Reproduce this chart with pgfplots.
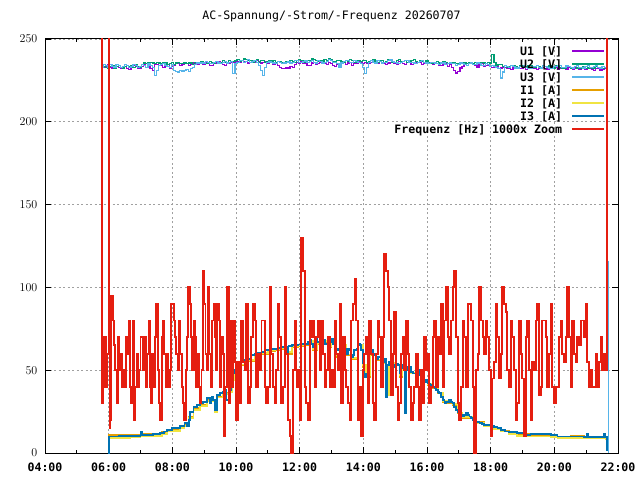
\documentclass[border=0pt]{standalone}
\usepackage{pgfplots}
\usepackage{pgfplotstable}
\pgfplotsset{compat=1.18}
\usepackage{fontspec}
\setmainfont{DejaVu Sans Mono}
\definecolor{cU1}{HTML}{9400D3}
\definecolor{cU2}{HTML}{009E73}
\definecolor{cU3}{HTML}{56B4E9}
\definecolor{cI1}{HTML}{E69F00}
\definecolor{cI2}{HTML}{F0E442}
\definecolor{cI3}{HTML}{0072B2}
\definecolor{cF}{HTML}{E51E10}
\definecolor{cgrid}{HTML}{A0A0A0}
\pgfplotstableread{
t U1 U2 U3
346 234 234.5 233
350 233 233.5 234.5
354 233.5 233 234
358 234.5 232.5 233
362 233 233.5 234.5
366 232.5 234 233.5
370 234 232.5 233
374 233.5 233.5 234.5
378 233 234 234
382 232 233 233
386 232.5 232.5 233.5
390 233.5 233.5 234.5
394 232 234 234
398 231.5 233.5 233
402 233 234 233.5
406 234 233 234.5
410 233.5 234.5 234
414 232.5 233.5 233
418 232 233 233.5
422 233.5 234.5 234.5
426 234.5 235.5 234
430 235 235 233
434 234 235.5 235
438 232 236 234
442 231 235.5 233
446 234.5 235 228
450 234.5 236 231
454 235 235.5 234
458 234 235 234.5
462 233 236 235
466 235 235.5 234
470 234.5 234.5 233.5
474 232 235 233
478 233.5 236 234.5
482 234 234.5 231
486 235 235.5 230.5
490 235 236 230
494 234 235 231
498 234.5 235 230.5
502 235.5 236 231
506 235 235 231.5
510 234 235.5 230.5
514 234.5 235.5 232
518 235.5 234.5 233
522 235 236 234.5
526 234.5 235.5 235.5
530 235 235.5 236
534 236 236.5 235
538 234.5 236 235.5
542 235.5 235 236.5
546 235.5 235 236
550 234 236.5 235
554 234 236 235
558 235 235.5 236
562 235.5 236.5 236.5
566 236.5 236 235.5
570 236 236 235
574 234.5 237 236
578 234 236 236.5
582 235.5 235.5 235.5
586 235 237 236
590 236 236.5 236.5
594 236 236.5 229
598 235 237 235
602 236.5 237.5 236
606 236 236.5 237
610 237 237 237
614 236.5 238 236
618 236.5 237.5 236.5
622 235.5 237 237.5
626 237 237 236
630 236.5 236 236.5
634 236 236.5 237
638 237 237.5 236
642 236.5 236 234
646 235.5 237 231
650 236 237 228
654 236.5 236 233
658 235 236.5 236
662 236 237 236.5
666 236 236.5 236
670 234.5 237 235.5
674 235.5 236 235
678 234 236.5 236.5
682 233 236.5 236
686 232 235.5 235
690 232 236 235.5
694 233 236.5 236
698 232.5 236 236.5
702 233.5 237 235.5
706 233 236.5 236
710 234.5 236 237
714 236 237 237
718 235.5 237.5 236
722 236.5 237 236
726 235 236 236.5
730 235.5 236.5 237
734 234 237 236
738 234 237 236.5
742 235.5 238 237
746 236 237.5 236
750 234.5 237 235.5
754 235 236.5 237
758 236 237 236.5
762 236 236 235.5
766 235 237.5 236
770 234.5 237 236.5
774 236 238 237.5
778 235 237.5 237
782 234 236.5 236
786 233.5 236.5 236
790 234.5 237 235
794 235 237 233
798 235.5 236.5 235.5
802 236 236 236.5
806 234.5 237 237
810 235.5 236.5 237
814 236 237.5 236
818 234 237 236
822 235 236 237
826 235.5 236 236.5
830 236.5 237 236
834 236 236.5 235
838 235 237 233
842 236 237 229
846 235.5 236 233
850 235 236.5 236
854 236 237 237
858 236.5 237.5 236
862 235 236.5 235.5
866 235.5 236 237
870 236.5 237 236.5
874 236 237 235.5
878 235 236 236
882 234.5 236.5 236
886 235.5 237.5 237
890 236 237 237.5
894 236.5 236 236.5
898 235 236 236
902 234.5 237 235.5
906 236.5 237.5 235
910 236 236.5 236
914 235 236.5 236.5
918 234.5 237 237
922 236 236 237
926 236.5 236.5 236
930 234.5 237 236
934 235 237.5 235.5
938 235.5 236.5 235
942 236 236 236
946 236 237 236.5
950 234.5 236.5 237
954 235 236 236
958 236 237 235.5
962 235.5 236 235
966 235 235 236
970 234.5 235.5 236
974 235.5 236 235.5
978 235 236.5 235
982 234 235.5 234.5
986 234 235.5 235.5
990 235 236.5 236
994 235 236 234.5
998 233.5 235 235
1002 234.5 235 235.5
1006 233 236 235
1010 231 235.5 235
1014 229.5 235 234
1018 230.5 235 234.5
1022 232.5 236 235.5
1026 233.5 236 235
1030 234.5 235.5 234.5
1034 234 235 234
1038 235 236 235
1042 235 235.5 235.5
1046 234.5 235 234.5
1050 234 236 234.5
1054 233 235.5 235.5
1058 234.5 235 235
1062 235 236 234
1066 233.5 235.5 234
1070 234 235 235
1074 234 236 234.5
1078 233.5 235.5 233.5
1082 233 240.5 234
1086 234 236 233.5
1090 233.5 234 233
1094 232 234.5 232
1098 232.5 234.5 226.5
1102 233 233.5 230
1106 233 234 234
1110 232.5 233 233.5
1114 232 233.5 233
1118 231.5 234 234
1122 232.5 234 233.5
1126 233 233.5 232.5
1130 233 233 232.5
1134 232 234 233.5
1138 232 234 233.5
1142 233 233 234
1146 231.5 233.5 233
1150 232.5 234 232.5
1154 233 234 232
1158 232 233 233.5
1162 232.5 233 233.5
1166 231.5 234 234
1170 232 233.5 233
1174 232.5 233 232.5
1178 233 234 234
1182 232 233.5 233.5
1186 231.5 233 233
1190 233 234 232.5
1194 232 233.5 232.5
1198 232.5 232.5 233.5
1202 233 234 233.5
1206 231.5 233.5 234
1210 232.5 233 234
1214 233 232.5 233
1218 232 232.5 233
1222 231.5 233.5 234
1226 233 233.5 233.5
1230 232 232.5 233
1234 231.5 233 232.5
1238 232.5 233.5 233.5
1242 232.5 232.5 234
1246 231.5 232 233
1250 232 233 233
1254 233 233.5 232.5
1258 231.5 232 233.5
1262 232 232.5 234
1266 232.5 233 233
1270 231.5 232 233
1274 231 232.5 233.5
1278 232 233.5 234
1282 232 233 233
1286 231 232 232.5
1290 231.5 232 233.5
1294 232.5 233 233
1298 232 232.5 233
}\volt
\begin{document}
\begin{tikzpicture}
\useasboundingbox (0,0) rectangle (640pt,480pt);
\begin{axis}[
  at={(45pt,27pt)}, anchor=south west,
  width=573pt, height=414pt, scale only axis,
  xmin=240, xmax=1320, ymin=0, ymax=250,
  xtick={240,360,...,1320},
  xticklabels={04:00,06:00,08:00,10:00,12:00,14:00,16:00,18:00,20:00,22:00},
  minor x tick num=1,
  ytick={0,50,...,250},
  tick align=inside,
  major tick length=6pt, minor tick length=3pt,
  grid=major,
  major grid style={cgrid, dash pattern=on 2pt off 2.5pt, line width=0.9pt},
  axis line style={line width=1pt, black},
  every tick/.style={black, line width=0.9pt},
  tick label style={font=\fontsize{11.6}{13}\selectfont\bfseries},
  xticklabel style={anchor=base, yshift=-18.7pt},
  yticklabel style={anchor=east, xshift=-4.1pt},
  title={AC-Spannung/-Strom/-Frequenz 20260707},
  title style={at={(0.5,1)}, anchor=base, yshift=13.3pt, font=\fontsize{11.6}{13}\selectfont},
  legend cell align=right,
  legend plot pos=right,
  legend image code/.code={\draw[#1] (0pt,0pt) -- (32pt,0pt);},
  legend style={at={(rel axis cs:0.9773,0.9855)}, anchor=north east, draw=none, fill=none,
    inner sep=0pt, outer sep=0pt, row sep=1pt, column sep=9pt,
    font=\fontsize{11.6}{13}\selectfont\bfseries,
    nodes={inner sep=0pt, text height=10pt, text depth=2pt}},
  every axis plot/.append style={const plot},
]
\addplot[cU1, line width=1.3pt] table[x=t, y=U1] {\volt};
\addlegendentry{U1 [V]}
\addplot[cU2, line width=1.3pt] table[x=t, y=U2] {\volt};
\addlegendentry{U2 [V]}
\addplot[cU3, line width=1.3pt] table[x=t, y=U3] {\volt};
\addlegendentry{U3 [V]}
\addplot[cI1, line width=1.8pt] coordinates {
(360,0) (360.5,11) (400,11) (420,11.5) (440,11.5) (460,12.5) (470,14) (480,14.5) (495,16) (503,17)
(512,22) (520,27) (532,29) (545,32) (560,25) (564,34) (576,36) (586,37) (592,44) (598,48)
(610,53) (623,55.5) (635,58.5) (648,60) (661,61.5) (673,62) (685,63) (697,60) (705,64) (717,64.5)
(729,65) (739,67) (745,62) (752,66) (764,67) (773,64) (780,68) (786,58) (797,65) (808,59)
(817,57) (830,65) (839,52) (845,46) (852,59) (864,56) (877,54) (883,36) (889,54) (902,53)
(908,46) (914,52) (921,51) (930,48) (942,49) (952,43) (961,41) (971,39) (980,36) (990,31)
(999,30) (1008,29) (1018,24) (1027,21) (1040,21) (1052,18.5) (1068,16.5) (1086,15) (1099,13.5) (1115,12)
(1130,11.5) (1155,11) (1193,10.5) (1206,9.8) (1231,10.5) (1256,10) (1290,10) (1297,9.5) (1299,5)};
\addlegendentry{I1 [A]}
\addplot[cI2, line width=1.8pt] coordinates {
(360,0) (360.5,9) (400,9.5) (420,10) (440,10.5) (460,11.5) (470,13) (480,13.5) (495,15) (503,16.5)
(512,21) (520,26) (532,28.5) (545,31.5) (560,25) (564,33.5) (576,35.5) (586,36.5) (592,44) (598,48)
(610,53.5) (623,56) (635,59) (648,60.5) (661,62) (673,62.5) (685,63.5) (697,61) (705,64.5) (717,65)
(729,65.5) (739,67.5) (745,63) (752,66.5) (764,67.5) (773,64.5) (780,68.5) (786,59) (797,65.5) (808,59.5)
(817,57.5) (830,65.5) (839,53) (845,47) (852,59.5) (864,56.5) (877,54.5) (883,35) (889,54.5) (902,53.5)
(908,47) (914,52.5) (921,51.5) (930,48.5) (942,49.5) (952,43.5) (961,41.5) (971,39.5) (980,36.5) (990,31.5)
(999,30.5) (1008,29.5) (1018,24.5) (1027,21.5) (1040,21.5) (1052,18) (1068,16) (1086,14.5) (1099,13) (1115,11.5)
(1130,10.5) (1155,10) (1193,9.5) (1206,9) (1231,9) (1256,8.8) (1290,8.8) (1297,8.5) (1299,4)};
\addlegendentry{I2 [A]}
\addplot[cI3, line width=1.8pt] coordinates {
(359.5,0) (360,10) (380,10.4) (400,10.2) (412,10.5) (420,12.5) (423,11) (444,11.5) (457,12) (465,13)
(470,14) (479,15) (488,15) (494,16.5) (503,18) (508,16) (511,20) (513,25) (520,28) (526,29)
(532,30) (538,31) (545,33) (551,30) (554,34) (557,32) (560,26) (564,35) (570,36) (576,37)
(580,38) (582,32) (586,38) (591,46) (594,48) (598,50) (604,52) (610,55) (617,56) (623,57)
(629,59) (635,60) (642,60.5) (648,61) (655,62) (661,62.5) (667,63) (673,63) (679,63.5) (685,64)
(690,64) (695,64) (697,61) (699,64.5) (705,65) (711,65) (717,65.5) (723,66) (729,66) (735,67)
(739,68) (742,66) (745,64) (748,69) (752,67) (755,67) (758,65) (761,63) (764,68) (768,66)
(773,65) (777,67) (780,69) (783,66) (786,60) (789,62) (792,63) (797,66) (802,65) (805,63)
(808,60) (811,63) (814,62) (817,58) (820,59) (823,62) (827,63) (830,66) (833,65) (836,62)
(839,54) (842,46) (845,48) (848,61) (852,60) (855,62) (858,60) (861,59) (864,57) (867,58)
(870,58) (874,56) (877,55) (880,57) (882,54) (883,34) (885,53) (889,55) (892,54) (895,53)
(899,52) (902,54) (905,53) (908,48) (911,51) (914,53) (917,51) (919,24) (921,52) (924,50)
(927,52) (930,49) (933,48) (936,48) (939,50) (942,50) (946,47) (949,45) (952,44) (955,43)
(958,44) (961,42) (965,41) (968,41) (971,40) (974,39) (977,38) (980,37) (983,36) (986,34)
(990,32) (993,30) (996,31) (999,31) (1002,32) (1005,31) (1008,30) (1011,28) (1015,26) (1018,25)
(1021,24) (1024,23) (1027,22) (1030,23) (1034,24) (1037,23) (1040,22) (1043,21) (1046,20) (1049,19.5)
(1052,19) (1055,18.5) (1059,18) (1063,17.5) (1068,17) (1080,16.5) (1086,15.5) (1093,15) (1099,14) (1107,13)
(1115,12.5) (1130,12) (1143,11) (1155,11.5) (1174,11.5) (1193,11) (1206,10) (1231,10) (1256,9.8) (1262,11.5)
(1264,9.8) (1275,9.8) (1290,9.5) (1294,11.5) (1296,9.5) (1299,1)};
\addlegendentry{I3 [A]}
\addplot[cF, line width=1.9pt] coordinates {
(347,300) (348,30) (349.5,70) (351,40) (353,70) (355,40) (357,60) (360,300) (361.5,15) (363,20)
(365,95) (367.5,80) (370,65) (372.5,50) (375,30) (377.5,70) (380,50) (382.5,60) (385,40) (387.5,50)
(390,40) (392.5,70) (395,60) (397.5,80) (400,40) (402.5,30) (405,80) (407.5,20) (410,40) (412.5,60)
(415,40) (417.5,50) (420,70) (425,50) (427.5,70) (430,40) (432.5,60) (435,80) (437.5,40) (440,30)
(442.5,60) (445,40) (447.5,70) (450,90) (452.5,50) (455,30) (457.5,20) (460,70) (462.5,80) (465,60)
(467.5,40) (470,60) (472.5,40) (475,50) (477.5,90) (482.5,80) (485,70) (487.5,60) (490,50) (492.5,80)
(495,60) (497.5,40) (500,30) (502.5,20) (505,50) (507.5,70) (510,100) (512.5,90) (515,70) (517.5,50)
(520,80) (522.5,70) (525,40) (527.5,60) (530,40) (532.5,30) (535,50) (537.5,110) (540,90) (542.5,60)
(545,50) (547.5,100) (550,60) (552.5,40) (555,80) (557.5,90) (560,70) (562.5,50) (565,90) (567.5,80)
(570,40) (572.5,70) (575,60) (577.5,10) (580,40) (582.5,100)
(586,30) (588,80) (591,40) (594.5,80) (597.5,55) (600.5,20) (604,55) (607,30) (610,80) (613,55)
(616,50) (619.5,90) (622.5,30) (626,40) (629,70) (632,90) (635,80) (638,40) (641.5,60) (644.5,50)
(648,80) (654,40) (657,30) (660,40) (663.5,100) (666.5,60) (670,40) (673,30) (676,50) (679,90)
(682,70) (685.5,30) (688.5,40) (692,100) (695,60) (698,20) (701,10) (704,0) (707.5,50) (710.5,80)
(714,40) (717,50) (720,20) (723,130) (726,110) (729.5,40) (732.5,30) (736,20) (739,80) (742,70)
(745,80) (748,40) (751.5,70) (754.5,80) (758,50) (761,80) (764,60) (767,40) (770,50) (773.5,70)
(776.5,40) (780,50) (783,40) (786,80) (789,60) (792,50) (795.5,90) (798.5,30) (802,70) (805,50)
(808,40) (811,30) (814,20) (817.5,80) (820.5,90) (824,105) (827,80) (830,20)
(832.6,40) (835.7,10) (838.9,50) (842,60) (845.1,70) (848.3,30) (851.4,80) (854.6,60) (857.7,30) (860.8,20)
(864,60) (867.1,80) (870.3,70) (873.4,40) (876.5,70) (879.7,120) (882.8,110) (886,100) (889.1,80) (892.2,35)
(895.4,60) (898.5,85) (901.7,40) (904.8,20) (907.9,30) (911.1,60) (914.2,70) (917.4,50) (920.5,80) (923.6,60)
(926.8,40) (929.9,20) (933.1,30) (936.2,40) (939.3,60) (942.5,40) (945.6,20) (948.8,50) (951.9,30) (955,70)
(958.2,50) (961.3,60) (964.5,30) (967.6,40) (970.7,70) (973.9,80) (977,40) (980.2,70) (983.3,60) (986.4,90)
(989.6,40) (992.7,80) (995.9,100) (999,70) (1002.1,60) (1005.3,80) (1008.4,100) (1011.6,110) (1014.7,70) (1017.8,30)
(1021,20) (1024.1,40) (1027.3,80) (1030.4,70) (1033.5,40) (1036.7,90) (1039.8,90) (1043,80) (1046.1,40) (1049.2,0)
(1052.4,50) (1055.5,60) (1058.7,100) (1061.8,80) (1064.9,70) (1068.1,60)
(1070.6,80) (1073.8,70) (1076.9,50) (1080.1,10) (1083.2,45) (1086.3,55) (1089.5,90) (1092.6,70) (1095.8,45) (1098.9,60)
(1102,100) (1105.2,90) (1108.3,85) (1111.5,50) (1114.6,40) (1117.7,80) (1120.9,70) (1124,50) (1127.2,20) (1130.3,30)
(1133.4,80) (1136.6,60) (1139.7,45) (1142.9,10) (1146,70) (1149.1,80) (1152.3,50) (1155.4,20) (1158.6,55) (1161.7,50)
(1164.8,80) (1168,90) (1171.1,35) (1174.3,40) (1177.4,80) (1183.7,70) (1186.8,40) (1190,60) (1193.1,90) (1196.2,40)
(1199.4,30) (1202.5,40) (1208.8,70) (1211.9,80) (1215.1,60) (1218.2,55) (1221.4,70) (1224.5,100) (1227.6,70) (1230.8,40)
(1233.9,80) (1237.1,60) (1240.2,55) (1243.3,70) (1246.5,65) (1249.6,80) (1255.9,70) (1259,90) (1262.2,55) (1265.3,40)
(1268.5,50) (1271.6,40) (1277.9,60) (1281,40) (1284.2,55) (1287.3,70) (1290.4,50) (1293.6,60) (1296.7,50) (1298.6,300)};
\addlegendentry{Frequenz [Hz] 1000x Zoom}
\addplot[cU3, line width=1.3pt, forget plot] coordinates {(1302,116) (1302,0)};
\end{axis}
\end{tikzpicture}
\end{document}
